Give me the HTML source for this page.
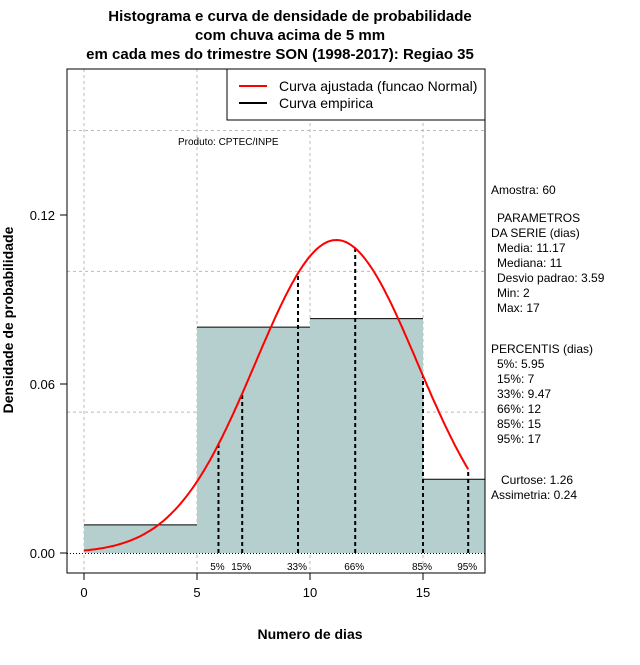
<!DOCTYPE html>
<html><head><meta charset="utf-8"><style>
body{margin:0;background:#fff;}
svg text{font-family:"Liberation Sans",sans-serif;}
</style></head><body>
<svg id="chart" width="640" height="660" xmlns="http://www.w3.org/2000/svg">
<text x="290" y="21" text-anchor="middle" font-size="15" font-weight="bold">Histograma e curva de densidade de probabilidade</text>
<text x="290" y="40" text-anchor="middle" font-size="15" font-weight="bold">com chuva acima de 5 mm</text>
<text x="280" y="59" text-anchor="middle" font-size="15" font-weight="bold">em cada mes do trimestre SON (1998-2017): Regiao 35</text>
<g id="grid"></g>
<g id="bars"></g>
<g id="pct"></g>
<path id="curve" fill="none" stroke="#ff0000" stroke-width="2"/>
<rect x="67" y="69" width="418" height="504" fill="none" stroke="#000"/>
<g id="axes"></g>
<text x="310" y="639" text-anchor="middle" font-size="14" font-weight="bold">Numero de dias</text>
<text transform="translate(13,320) rotate(-90)" text-anchor="middle" font-size="14" font-weight="bold">Densidade de probabilidade</text>
<g>
<rect x="227" y="69" width="258" height="51" fill="#fff" stroke="#000"/>
<line x1="239" y1="86" x2="267" y2="86" stroke="#ff0000" stroke-width="2"/>
<line x1="239" y1="103" x2="267" y2="103" stroke="#000" stroke-width="2"/>
<text x="279" y="91" font-size="14">Curva ajustada (funcao Normal)</text>
<text x="279" y="108" font-size="14">Curva empirica</text>
</g>
<text x="178" y="145" font-size="10">Produto: CPTEC/INPE</text>
<g font-size="12">
<text x="491" y="194">Amostra: 60</text>
<text x="497" y="222">PARAMETROS</text>
<text x="491" y="237">DA SERIE (dias)</text>
<text x="497" y="252">Media: 11.17</text>
<text x="497" y="267">Mediana: 11</text>
<text x="497" y="282">Desvio padrao: 3.59</text>
<text x="497" y="297">Min: 2</text>
<text x="497" y="312">Max: 17</text>
<text x="491" y="353">PERCENTIS (dias)</text>
<text x="497" y="368">5%: 5.95</text>
<text x="497" y="383">15%: 7</text>
<text x="497" y="398">33%: 9.47</text>
<text x="497" y="413">66%: 12</text>
<text x="497" y="428">85%: 15</text>
<text x="497" y="443">95%: 17</text>
<text x="501" y="484">Curtose: 1.26</text>
<text x="491" y="499">Assimetria: 0.24</text>
</g>
</svg>
<script>
const binEdges=[0,5,10,15,20];
const binDensity=[0.0100,0.0802,0.0832,0.0262];
const pctLabels=["5%","15%","33%","66%","85%","95%"];
const pctValues=[5.95,7,9.47,12,15,17];
const xTicks=[0,5,10,15];
const yTicks=[0.00,0.06,0.12];
const yTickLabels=["0.00","0.06","0.12"];
const gridX=[0,5,10,15];
const gridY=[0.05,0.10,0.15];
const meanV=11.17, sdV=3.59, curveMin=0, curveMax=17;
const NS="http://www.w3.org/2000/svg";
const X=v=>84+v*22.6, Y=v=>553-v*2816.7;
const XR=485;
function mk(tag,attrs,parent){const e=document.createElementNS(NS,tag);for(const k in attrs)e.setAttribute(k,attrs[k]);document.getElementById(parent).appendChild(e);return e;}
const dens=x=>Math.exp(-0.5*((x-meanV)/sdV)**2)/(sdV*Math.sqrt(2*Math.PI));
gridX.forEach(v=>{const l=mk('line',{x1:X(v),x2:X(v),y1:69,y2:573,stroke:'#bbb','stroke-dasharray':'3,3'},'grid');

});
gridY.forEach(v=>{const l=mk('line',{x1:67,x2:485,y1:Y(v),y2:Y(v),stroke:'#bbb','stroke-dasharray':'3,3'},'grid');

});
binDensity.forEach((d,i)=>{const x0=X(binEdges[i]),x1=Math.min(X(binEdges[i+1]),XR);
const r=mk('rect',{x:x0,y:Y(d),width:x1-x0,height:Y(0)-Y(d),fill:'#b5cfcf'},'bars');


const t=mk('line',{x1:x0,x2:x1,y1:Y(d),y2:Y(d),stroke:'#000'},'bars');

});
const base=mk('line',{x1:67,x2:485,y1:Y(0)+0.5,y2:Y(0)+0.5,stroke:'#000','stroke-dasharray':'1,2'},'bars');


pctValues.forEach((p,i)=>{const l=mk('line',{x1:X(p),x2:X(p),y1:Y(0),y2:Y(dens(p)),stroke:'#000','stroke-width':2,'stroke-dasharray':'4,3'},'pct');


const t=mk('text',{x:X(p)-1,y:570,'font-size':10,'text-anchor':'middle'},'pct');t.textContent=pctLabels[i];

});
let d='';for(let i=0;i<=170;i++){const x=curveMin+(curveMax-curveMin)*i/170;d+=(i?'L':'M')+X(x).toFixed(1)+','+Y(dens(x)).toFixed(1);}
document.getElementById('curve').setAttribute('d',d);
xTicks.forEach(v=>{const l=mk('line',{x1:X(v),x2:X(v),y1:573,y2:580,stroke:'#000'},'axes');


const t=mk('text',{x:X(v),y:597,'font-size':13,'text-anchor':'middle'},'axes');t.textContent=v;

});
yTicks.forEach((v,i)=>{const l=mk('line',{x1:60,x2:67,y1:Y(v),y2:Y(v),stroke:'#000'},'axes');


const t=mk('text',{x:55,y:Y(v)+5,'font-size':13,'text-anchor':'end'},'axes');t.textContent=yTickLabels[i];

});
</script>
</body></html>
